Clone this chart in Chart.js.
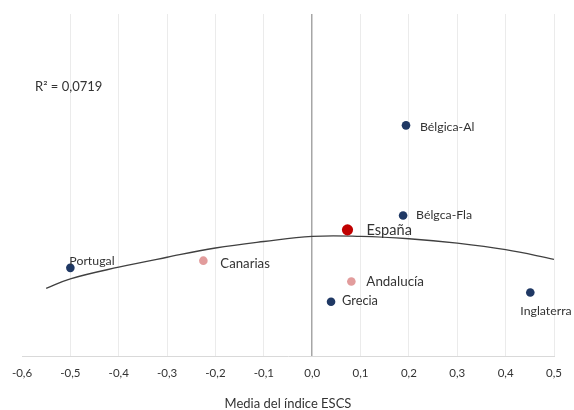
<!DOCTYPE html>
<html>
<head>
<meta charset="utf-8">
<script src="https://cdn.jsdelivr.net/npm/chart.js@4"></script>
<style>
  html, body { margin: 0; padding: 0; background: #fff; }
  #wrap { width: 574px; height: 410px; }
</style>
</head>
<body>
<div id="wrap"><canvas id="c" width="574" height="410"></canvas></div>
<script>
// ---- data ----
const regions     = ['Portugal', 'Canarias', 'España', 'Bélgica-Al', 'Bélgca-Fla', 'Andalucía', 'Grecia', 'Inglaterra'];
const escsMeans   = [-0.50, -0.225, 0.073, 0.194, 0.188, 0.081, 0.039, 0.451];
const yValues     = [25.9, 28.0, 37.0, 67.5, 41.2, 21.9, 16.0, 18.7];
const regionGroup = ['country', 'spainRegion', 'spain', 'country', 'country', 'spainRegion', 'country', 'country'];
const trendX      = [-0.55, -0.5, -0.4, -0.3, -0.2, -0.1, 0.0, 0.1, 0.2, 0.3, 0.4, 0.5];
const trendY      = [19.9, 22.7, 26.1, 29.0, 31.7, 33.6, 35.1, 35.1, 34.4, 33.1, 31.2, 28.4];
const xTickLabels = ['-0,6', '-0,5', '-0,4', '-0,3', '-0,2', '-0,1', '0,0', '0,1', '0,2', '0,3', '0,4', '0,5'];
const r2Text      = 'R² = 0,0719';
const xTitle      = 'Media del índice ESCS';

// ---- styles ----
const groupStyle = {
  country:     { color: '#1F3864', radius: 4.3 },
  spainRegion: { color: '#E29C9C', radius: 4.3 },
  spain:       { color: '#C00000', radius: 5.6 }
};
const labelStyle = {
  'Portugal':   { dx: -1,  dy: -7, size: 12.3 },
  'Canarias':   { dx: 17,  dy: 3,  size: 13.2 },
  'España':     { dx: 19,  dy: 0,  size: 14.6 },
  'Bélgica-Al': { dx: 14,  dy: 2,  size: 12.3 },
  'Bélgca-Fla': { dx: 13,  dy: 0,  size: 12.3 },
  'Andalucía':  { dx: 15,  dy: 0,  size: 13.4 },
  'Grecia':     { dx: 11,  dy: -1, size: 12.8 },
  'Inglaterra': { dx: -10, dy: 19, size: 12.3 }
};
const FONT = 'Lato, "Open Sans", sans-serif';
const TEXT = '#333333';

const points = regions.map((name, i) => ({ x: escsMeans[i], y: yValues[i], name, group: regionGroup[i] }));

const datasets = [
  {
    label: 'trend',
    data: trendX.map((x, i) => ({ x, y: trendY[i] })),
    showLine: true,
    borderColor: '#404040',
    borderWidth: 1.3,
    pointRadius: 0,
    tension: 0.4,
    fill: false,
    order: 2
  },
  ...['country', 'spainRegion', 'spain'].map(g => ({
    label: g,
    data: points.filter(p => p.group === g),
    backgroundColor: groupStyle[g].color,
    borderColor: groupStyle[g].color,
    pointRadius: groupStyle[g].radius,
    pointBorderWidth: 0,
    order: 1
  }))
];

const labelPlugin = {
  id: 'labels',
  afterDatasetsDraw(chart) {
    const ctx = chart.ctx;
    const xs = chart.scales.x, ys = chart.scales.y;
    ctx.save();
    ctx.fillStyle = TEXT;
    ctx.textBaseline = 'middle';
    ctx.textAlign = 'left';
    points.forEach(p => {
      const s = labelStyle[p.name];
      ctx.font = s.size + 'px ' + FONT;
      ctx.fillText(p.name, xs.getPixelForValue(p.x) + s.dx, ys.getPixelForValue(p.y) + s.dy);
    });
    ctx.font = '13px ' + FONT;
    const ca = chart.chartArea;
    ctx.fillText(r2Text, ca.left + 13, ca.top + 73);
    ctx.restore();
  }
};

new Chart(document.getElementById('c'), {
  type: 'scatter',
  data: { datasets },
  options: {
    responsive: false,
    animation: false,
    devicePixelRatio: 1,
    layout: { padding: { left: 22, right: 20, top: 14, bottom: 0 } },
    plugins: { legend: { display: false }, tooltip: { enabled: false } },
    scales: {
      x: {
        type: 'linear',
        min: -0.6,
        max: 0.5,
        grid: {
          drawTicks: false,
          color: c => {
            const v = Math.round(c.tick.value * 10);
            if (v === 0) return '#A6A6A6';
            if (v === -6) return 'rgba(0,0,0,0)';
            return '#EBEBEB';
          },
          lineWidth: c => (Math.round(c.tick.value * 10) === 0 ? 1.5 : 1)
        },
        border: { display: true, color: '#D9D9D9', width: 1 },
        ticks: {
          stepSize: 0.1,
          padding: 10,
          color: TEXT,
          font: { family: FONT, size: 11.5 },
          maxRotation: 0,
          callback: (v) => xTickLabels[Math.round(v * 10) + 6]
        },
        title: {
          display: true,
          text: xTitle,
          color: TEXT,
          font: { family: FONT, size: 13 },
          padding: { top: 6, bottom: -2 }
        }
      },
      y: {
        type: 'linear',
        min: 0,
        max: 100,
        display: false
      }
    }
  },
  plugins: [labelPlugin]
});
</script>
</body>
</html>
